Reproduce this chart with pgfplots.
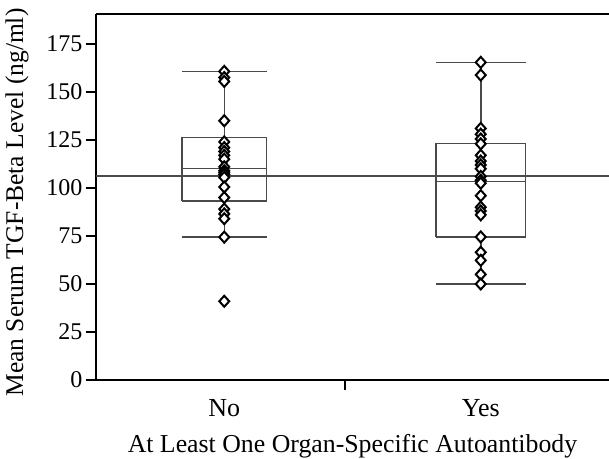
\documentclass[border=0pt]{standalone}
\usepackage{fontspec}
\setmainfont{Liberation Serif}
\usepackage{pgfplots}
\pgfplotsset{compat=1.18}
\definecolor{BoxGrey}{HTML}{4A4A4A}

\begin{document}
\begin{tikzpicture}
\begin{axis}[
  scale only axis, width=513pt, height=366pt,
  xmin=0.5, xmax=2.5, ymin=0, ymax=190.6,
  axis x line*=bottom, axis y line*=left,
  axis line style={-, line width=1.4pt},
  ytick={0,25,...,175},
  xtick={1.47}, xticklabels={},
  extra x ticks={1,2}, extra x tick labels={No,Yes},
  extra x tick style={major tick length=0pt,
    xticklabel style={anchor=base, yshift=-36pt, font=\fontsize{26}{30}\selectfont}},
  tick align=outside, major tick length=10pt,
  tick style={black, line width=1.4pt},
  yticklabel style={font=\fontsize{24}{28}\selectfont},
  /pgf/number format/assume math mode=true,
  xlabel={At Least One Organ-Specific Autoantibody},
  ylabel={Mean Serum TGF-Beta Level (ng/ml)},
  xlabel style={at={(rel axis cs:0.5,0)}, anchor=base, yshift=-72.5pt,
    font=\fontsize{25.8}{30}\selectfont},
  ylabel style={at={(rel axis cs:-0.154,0.485)}, anchor=center,
    font=\fontsize{25.5}{30}\selectfont},
  clip=false,
]
% reference line (overall mean)
\addplot[BoxGrey, line width=1.5pt] coordinates {(0.5,106.3) (2.5,106.3)};

% group No: whiskers 74.4 / 160.7, box 93.2-126.3, median 110.2
\addplot[BoxGrey, line width=1.5pt] coordinates {(0.835,93.2) (1.165,93.2) (1.165,126.3) (0.835,126.3) (0.835,93.2)};
\addplot[BoxGrey, line width=1.5pt] coordinates {(0.835,110.2) (1.165,110.2)};
\addplot[BoxGrey, line width=1.5pt] coordinates {(1,126.3) (1,160.7)};
\addplot[BoxGrey, line width=1.5pt] coordinates {(1,93.2) (1,74.4)};
\addplot[BoxGrey, line width=1.5pt] coordinates {(0.835,160.7) (1.165,160.7)};
\addplot[BoxGrey, line width=1.5pt] coordinates {(0.835,74.4) (1.165,74.4)};

% group Yes: whiskers 50 / 165.4, box 74.4-123.1, median 103.5
\addplot[BoxGrey, line width=1.5pt] coordinates {(1.825,74.4) (2.175,74.4) (2.175,123.1) (1.825,123.1) (1.825,74.4)};
\addplot[BoxGrey, line width=1.5pt] coordinates {(1.825,103.5) (2.175,103.5)};
\addplot[BoxGrey, line width=1.5pt] coordinates {(2,123.1) (2,165.4)};
\addplot[BoxGrey, line width=1.5pt] coordinates {(2,74.4) (2,50)};
\addplot[BoxGrey, line width=1.5pt] coordinates {(1.825,165.4) (2.175,165.4)};
\addplot[BoxGrey, line width=1.5pt] coordinates {(1.825,50) (2.175,50)};

\addplot[only marks, mark=diamond*, mark size=5.5pt,
  mark options={xscale=1.2, fill=white, draw=black, line width=2pt}] coordinates {
  (1,160.7) (1,157.5) (1,155.5) (1,135) (1,124) (1,121) (1,119) (1,117)
  (1,115) (1,111) (1,109) (1,108) (1,107) (1,105.5) (1,100.5) (1,95)
  (1,89) (1,86.5) (1,84) (1,74.4) (1,41)
};
\addplot[only marks, mark=diamond*, mark size=5.5pt,
  mark options={xscale=1.2, fill=white, draw=black, line width=2pt}] coordinates {
  (2,165.4) (2,158.8) (2,131) (2,128) (2,125.5) (2,123) (2,117) (2,114)
  (2,112) (2,110) (2,106) (2,104) (2,102.5) (2,96) (2,90) (2,88) (2,86)
  (2,74.5) (2,66.5) (2,62.3) (2,55) (2,50)
};
\end{axis}
\draw[line width=1.4pt] (current axis.north west) -- (current axis.north east);
\pgfresetboundingbox
\path[use as bounding box] ([xshift=-96pt,yshift=-78pt]current axis.south west)
  rectangle ([yshift=14pt]current axis.north east);
\end{tikzpicture}
\end{document}
